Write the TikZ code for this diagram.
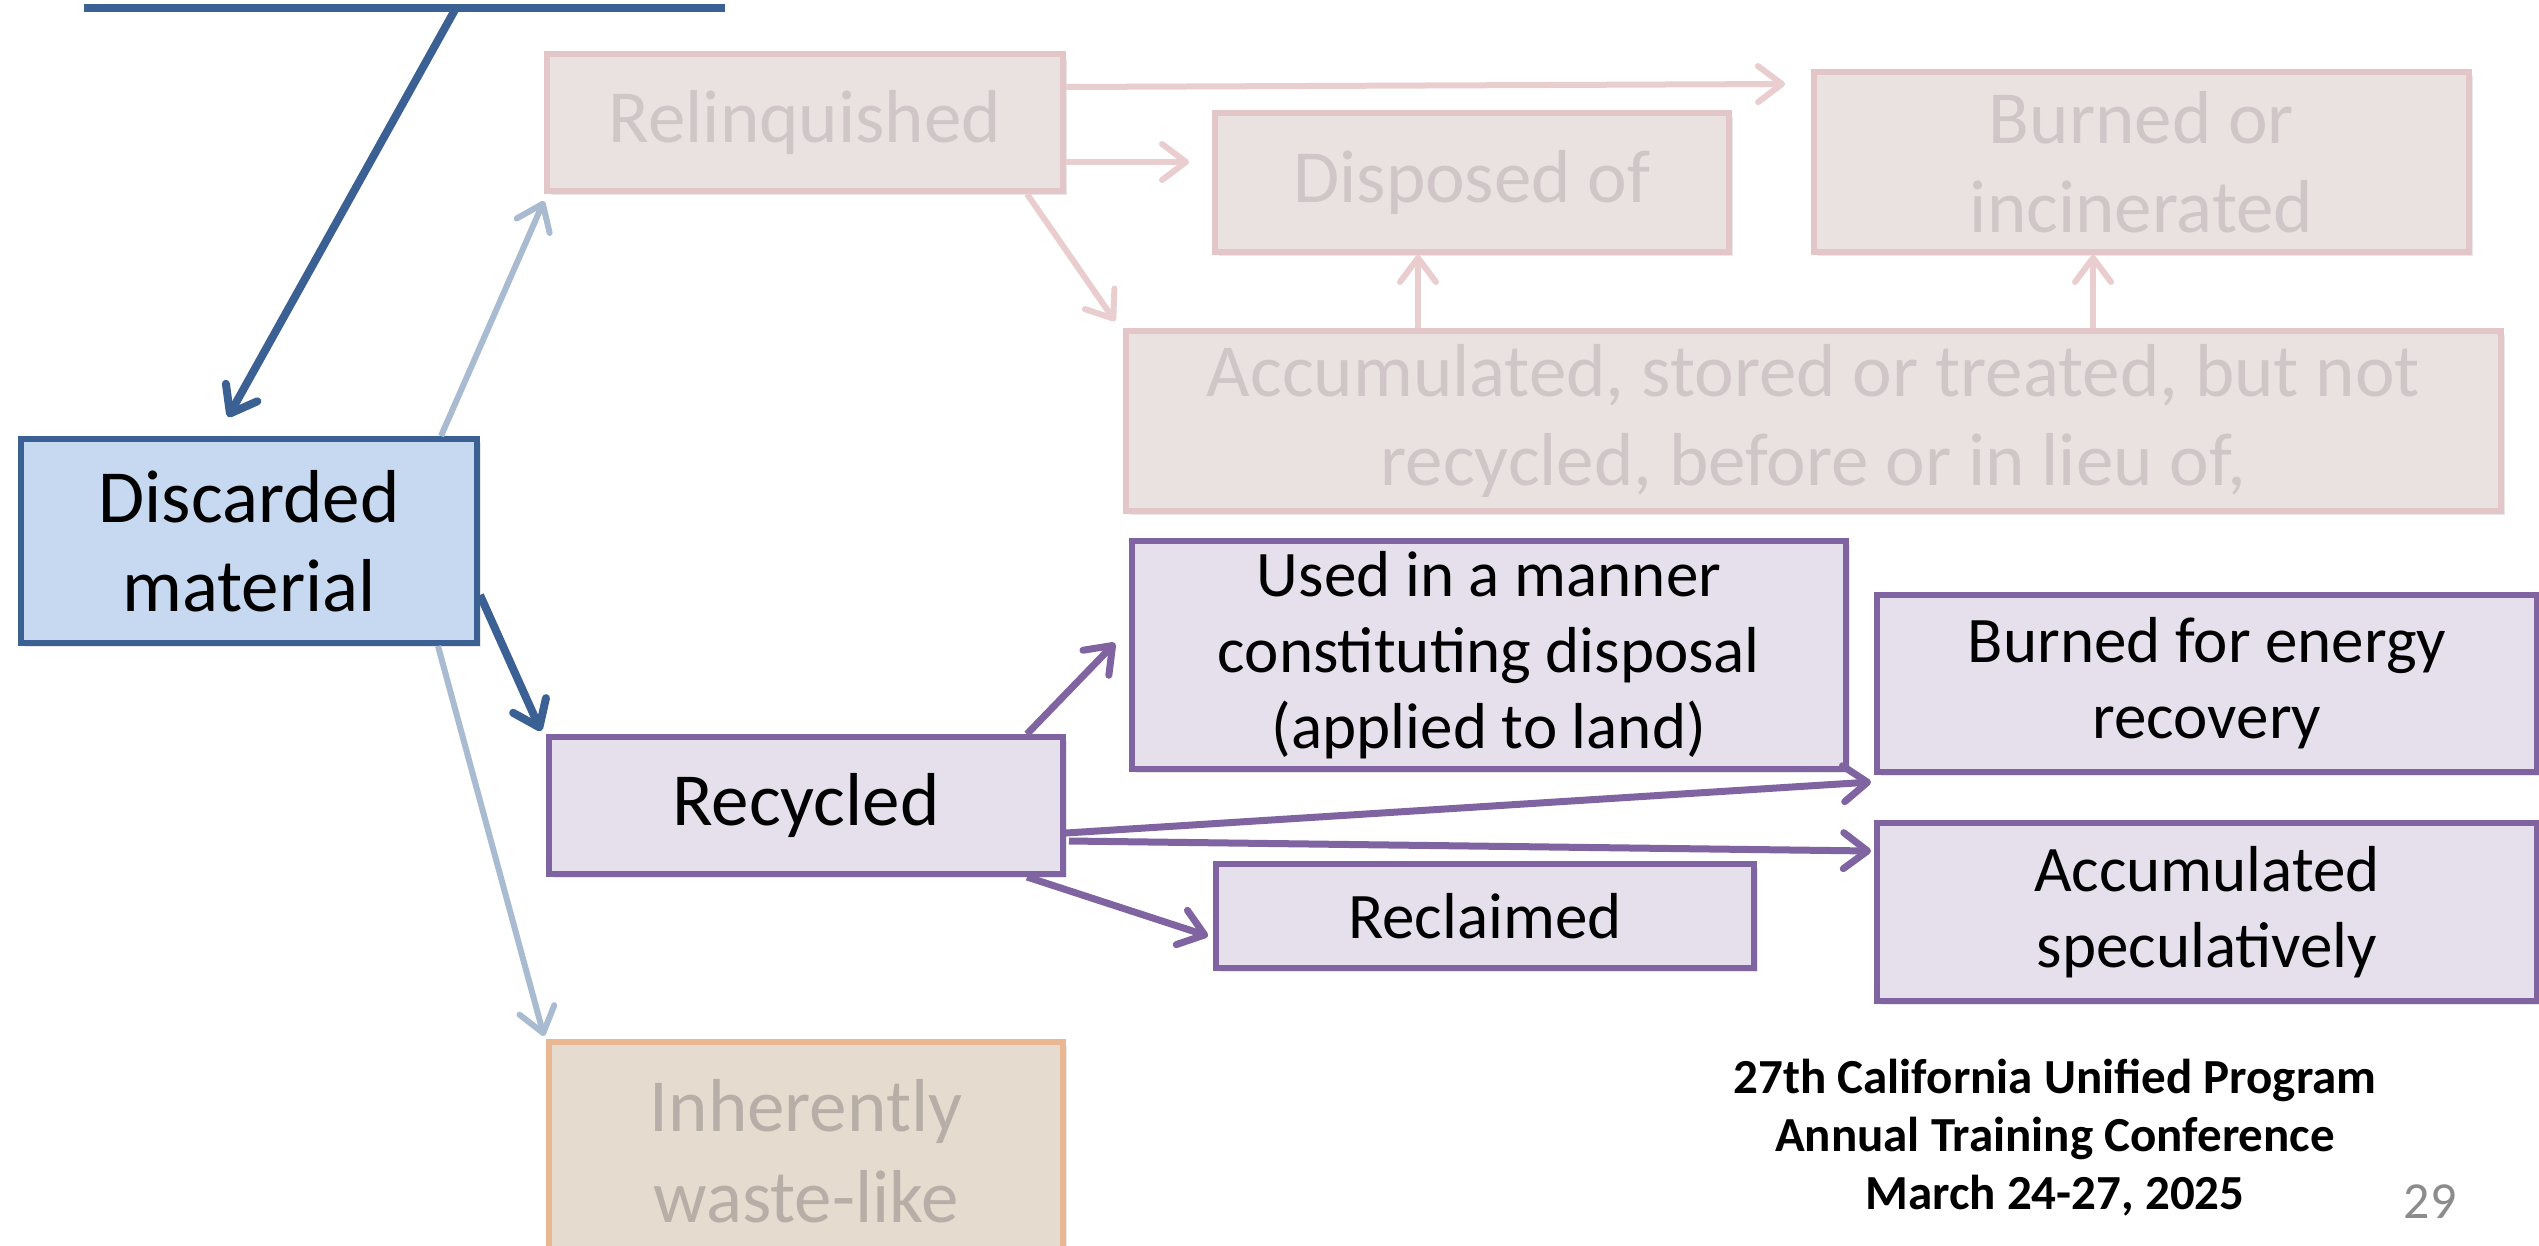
\documentclass[tikz,border=0pt]{standalone}
\usepackage{fontspec}
\setmainfont{Carlito}
\usetikzlibrary{arrows.meta,shadows}
\definecolor{bdark}{HTML}{3B6093}
\definecolor{bfill}{HTML}{C6D9F0}
\definecolor{bfaded}{HTML}{A9BBD0}
\definecolor{pfill}{HTML}{EAE1E1}
\definecolor{pborder}{HTML}{E3C6C8}
\definecolor{ptext}{HTML}{D0C6C8}
\definecolor{parrow}{HTML}{EACDCF}
\definecolor{purp}{HTML}{8064A2}
\definecolor{purpfill}{HTML}{E5E0EC}
\definecolor{ofill}{HTML}{E6DBCF}
\definecolor{oborder}{HTML}{E9B893}
\definecolor{otext}{HTML}{B7AFA7}
\definecolor{pgray}{HTML}{8C8C8C}
\tikzset{
  base/.style={rectangle, line width=6pt, inner sep=0pt, align=center,
    drop shadow={opacity=0.18, shadow xshift=4pt, shadow yshift=-4pt}},
  bluebox/.style={base, draw=bdark, fill=bfill, text=black, font=\fontsize{75}{89}\selectfont},
  fadedbox/.style={base, draw=pborder, fill=pfill, text=ptext, font=\fontsize{75}{89}\selectfont},
  orangebox/.style={base, draw=oborder, fill=ofill, text=otext, font=\fontsize{75}{91}\selectfont},
  recbox/.style={base, draw=purp, fill=purpfill, text=black, font=\fontsize{75}{89}\selectfont},
  purpbox/.style={base, draw=purp, fill=purpfill, text=black, font=\fontsize{65}{76}\selectfont},
  tipb/.style={-{Straight Barb[length=24pt,width=36pt,round]}},
  barrow/.style={tipb, draw=bdark, line width=8pt},
  bfarrow/.style={tipb, draw=bfaded, line width=6pt},
  parrowst/.style={tipb, draw=parrow, line width=6pt},
  purarrow/.style={tipb, draw=purp, line width=7pt},
  foot/.style={font=\fontsize{49}{58}\selectfont\bfseries, align=center, inner sep=0pt}
}
\begin{document}
\begin{tikzpicture}[x=1pt,y=-1pt]
\useasboundingbox[fill=white] (0,0) rectangle (2539,1245);
% top bar
\coordinate (tl) at (84,8);
\coordinate (tr) at (725,8);
\coordinate (tm) at (456,8);
\draw[bdark, line width=8pt] (tl) -- (tr);
% faded upper boxes
\node[fadedbox, minimum width=516pt, minimum height=137pt] (relq) at (805,122.5) {Relinquished};
\node[fadedbox, minimum width=514pt, minimum height=139pt] (disp) at (1472,182.5) {Disposed of};
\node[fadedbox, minimum width=655pt, minimum height=180pt] (burnI) at (2141.5,162) {Burned or\\incinerated};
\node[fadedbox, minimum width=1375pt, minimum height=180pt] (accst) at (1813.5,421) {Accumulated, stored or treated, but not\\recycled, before or in lieu of,};
% main boxes
\node[bluebox, minimum width=456pt, minimum height=204pt] (disc) at (249,541) {Discarded\\material};
\node[recbox, minimum width=514pt, minimum height=137pt] (recy) at (806,805.5) {Recycled};
\node[orangebox, minimum width=514pt, minimum height=218pt] (inher) at (806,1151) {Inherently\\waste-like};
\node[purpbox, minimum width=714pt, minimum height=228pt] (used) at (1489,655) {Used in a manner\\constituting disposal\\(applied to land)};
\node[purpbox, minimum width=660pt, minimum height=177pt] (burnE) at (2207,683.5) {Burned for energy\\recovery};
\node[purpbox, minimum width=660pt, minimum height=178pt] (accsp) at (2207,912) {Accumulated\\speculatively};
\node[purpbox, minimum width=538pt, minimum height=104pt] (recl) at (1485,916) {Reclaimed};
% arrows blue
\draw[barrow] (tm) -- ([xshift=-21pt,yshift=19pt]disc.north);
\draw[barrow] ([yshift=-54pt]disc.east) -- ([xshift=-5pt,yshift=3pt]recy.north west);
\draw[bfarrow] ([xshift=-39pt]disc.north east) -- ([yshift=-7pt]relq.south west);
\draw[bfarrow] ([xshift=-42pt]disc.south east) -- ([xshift=-2pt,yshift=3pt]inher.north west);
% faded pink arrows
\draw[parrowst] ([yshift=35.5pt]relq.east) -- ([xshift=-26pt,yshift=-15pt]burnI.north west);
\draw[parrowst] ([yshift=-39.5pt]relq.east) -- ([xshift=-23pt,yshift=20.5pt]disp.west);
\draw[parrowst] ([xshift=-39pt]relq.south east) -- ([xshift=-8pt,yshift=7pt]accst.north west);
\draw[parrowst] ([xshift=-54pt]disp.south |- accst.north) -- ([xshift=-54pt]disp.south);
\draw[parrowst] ([xshift=-48.5pt]burnI.south |- accst.north) -- ([xshift=-48.5pt]burnI.south);
% purple arrows
\draw[purarrow] ([xshift=-39pt]recy.north east) -- ([xshift=-14pt,yshift=12pt]used.west);
\draw[purarrow] ([yshift=-27.5pt]recy.east) -- ([xshift=-3pt,yshift=-7pt]burnE.south west);
\draw[purarrow] ([xshift=3pt,yshift=-35.5pt]recy.east) -- ([xshift=-3pt,yshift=61pt]accsp.west);
\draw[purarrow] ([xshift=-39pt]recy.south east) -- ([xshift=-5pt,yshift=-20pt]recl.west);
% footer
\node[foot, anchor=base] (f1) at (2055,1093) {27th California Unified Program};
\node[foot, anchor=base] (f2) at (2055,1151) {Annual Training Conference};
\node[foot, anchor=base] (f3) at (2055,1209) {March 24-27, 2025};
\node[anchor=base, inner sep=0pt, text=pgray, font=\fontsize{52}{60}\selectfont] (pg) at (2430,1218) {29};
\end{tikzpicture}
\end{document}
